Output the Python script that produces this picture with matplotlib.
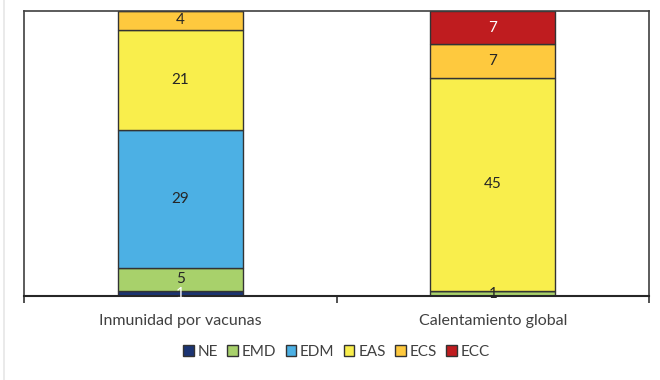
import numpy as np
import matplotlib.pyplot as plt
from matplotlib.lines import Line2D

plt.rcParams['font.family'] = ['Lato', 'DejaVu Sans']

categories = ["Inmunidad por vacunas", "Calentamiento global"]
series = ["NE", "EMD", "EDM", "EAS", "ECS", "ECC"]
values = {
    "NE":  [1, 0],
    "EMD": [5, 1],
    "EDM": [29, 0],
    "EAS": [21, 45],
    "ECS": [4, 7],
    "ECC": [0, 7],
}
colors = {
    "NE": "#1b3473",
    "EMD": "#a8d16b",
    "EDM": "#4cb0e4",
    "EAS": "#f9ee4c",
    "ECS": "#fec93e",
    "ECC": "#bf1c1f",
}
label_colors = {
    "NE": "white", "EMD": "#262626", "EDM": "#262626",
    "EAS": "#262626", "ECS": "#262626", "ECC": "white",
}

fig = plt.figure(figsize=(6.6, 3.8), dpi=100)
ax = fig.add_axes([24 / 660, 84 / 380, 625 / 660, 285 / 380])

x = np.arange(len(categories))
bottom = np.zeros(len(categories))
for s in series:
    v = np.array(values[s], dtype=float)
    ax.bar(x, v, 0.4, bottom=bottom, color=colors[s], edgecolor="#333333",
           linewidth=1.0, label=s, zorder=2)
    for xi, vi, bi in zip(x, v, bottom):
        if vi > 0:
            ax.text(xi, bi + vi / 2, f"{int(vi)}", ha="center", va="center",
                    fontsize=11, color=label_colors[s], zorder=3)
    bottom += v

ax.set_xlim(-0.5, 1.5)
ax.set_ylim(0, 60)
ax.set_yticks([])
ax.set_xticks([-0.5, 0.5, 1.5])
ax.set_xticklabels([])
ax.set_xticks(x, minor=True)
ax.set_xticklabels(categories, minor=True, fontsize=11.5, color="#404040")
ax.tick_params(axis="x", which="major", length=5, width=1.2, color="#333333")
ax.tick_params(axis="x", which="minor", length=0, pad=13)
for sp in ax.spines.values():
    sp.set_color("#404040")
    sp.set_linewidth(1.2)
ax.spines["bottom"].set_color("#262626")
ax.spines["bottom"].set_linewidth(1.5)

ax.legend(loc="center", bbox_to_anchor=(0.5, -0.195), ncol=6, frameon=False,
          fontsize=11, handlelength=0.7, handleheight=0.7, handletextpad=0.25,
          columnspacing=0.6, labelcolor="#404040")

# thin page border on the left
fig.add_artist(Line2D([3.5 / 660, 3.5 / 660], [0, 1], color="#e6e6e6", lw=1.2))

fig.savefig("out.png", dpi=100)
